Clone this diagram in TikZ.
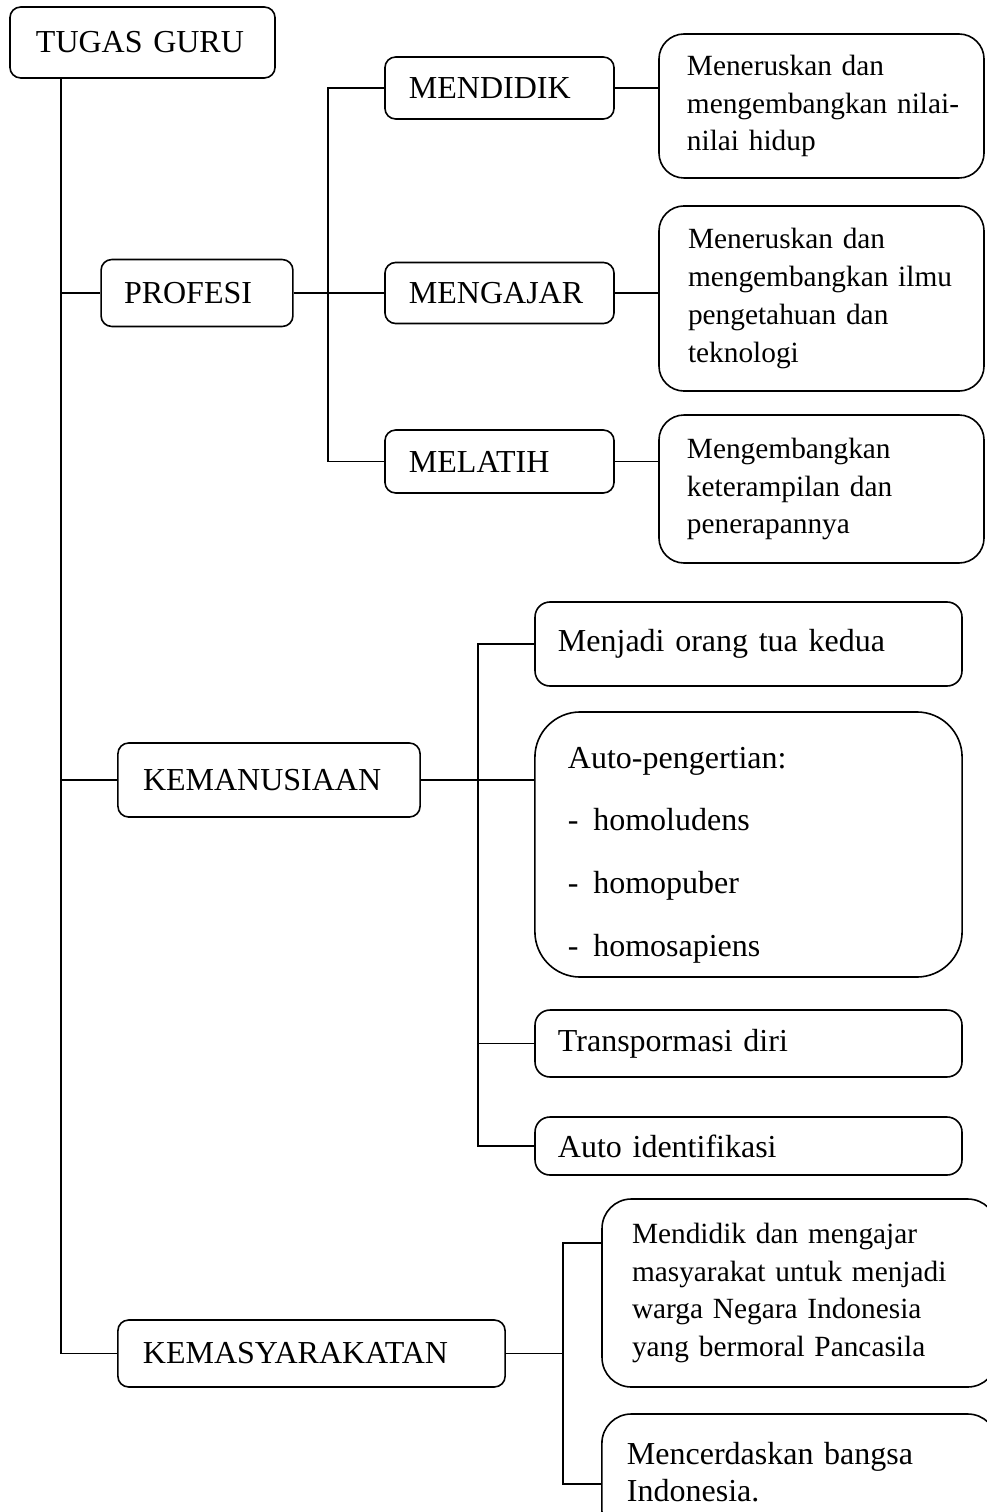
\documentclass[tikz,border=0pt]{standalone}
\usepackage{fontspec}
\setmainfont{Liberation Serif}
\usetikzlibrary{positioning}
\tikzset{
  every picture/.style = {
    line width = 0.6pt,
    x = 0.375pt,
    y = -0.375pt
  }
  ,
  tag/.style = {
    rectangle,
    draw,
    rounded corners = 4pt,
    font = \fontsize{12}{14}\selectfont,
    align = left,
    inner ysep = 0pt
  }
  , % one-line boxes on the right
  item/.style = {
    tag,
    rounded corners = 5.6pt
  }
  , % boxes with several lines
  note/.style = {
    rectangle,
    draw,
    rounded corners = 9.4pt,
    font = \fontsize{11}{14.2}\selectfont,
    align = left,
    inner ysep = 0pt
  }
}
\begin{document}
\begin{tikzpicture}
\useasboundingbox (0,0) rectangle (987,1512);
\clip (0,0) rectangle (987,1512);
% main branches
\node[tag, text width=79.9pt, inner xsep=9.75pt, minimum height=26.6pt] at (142.5,42.5) (tugas) {TUGAS GURU};
\node[tag, text width=54.75pt, inner xsep=8.6pt, minimum height=25.1pt] at (197,293) (profesi) {PROFESI};
\node[tag, text width=94.5pt, inner xsep=9.4pt, minimum height=27.75pt] at (269,780) (kemanusiaan) {KEMANUSIAAN};
\node[tag, text width=126.4pt, inner xsep=9.4pt, minimum height=25.1pt] at (311.5,1353.5) (kemasy) {KEMASYARAKATAN};
% profesi
\node[tag, text width=67.9pt, inner xsep=9pt, minimum height=23.25pt] at (499.5,88) (mendidik) {MENDIDIK};
\node[tag, text width=67.9pt, inner xsep=9pt, minimum height=22.9pt] at (499.5,293) (mengajar) {MENGAJAR};
\node[tag, text width=67.9pt, inner xsep=9pt, minimum height=23.6pt] at (499.5,461.5) (melatih) {MELATIH};
\node[note, text width=100.9pt, inner xsep=10.5pt, minimum height=54pt] at (821.5,106) (nilai) {Meneruskan dan\\\mbox{mengembangkan nilai-}\\nilai hidup};
\node[note, text width=100.1pt, inner xsep=10.9pt, minimum height=69.4pt] at (821.5,298.5) (ilmu) {Meneruskan dan\\\mbox{mengembangkan ilmu}\\pengetahuan dan\\teknologi};
\node[note, text width=100.9pt, inner xsep=10.5pt, minimum height=55.5pt] at (821.5,489) (latih) {Mengembangkan\\keterampilan dan\\penerapannya};
% kemanusiaan
\node[item, text width=142.9pt, inner xsep=8.6pt, minimum height=31.5pt] at (748.5,644) (menjadi) {Menjadi orang tua kedua};
\node[tag, rounded corners=17pt, font=\fontsize{12}{23.6}\selectfont, text width=135.4pt, inner xsep=12.4pt, minimum height=99.4pt] at (748.5,844.5) (autop) {\rule{0pt}{16pt}Auto-pengertian:\\-\hspace{5.5pt}homoludens\\-\hspace{5.5pt}homopuber\\-\hspace{5.5pt}homosapiens};
\node[item, text width=142.9pt, inner xsep=8.6pt, minimum height=25.1pt] at (748.5,1043.5) (transp) {Transpormasi diri};
\node[item, text width=142.9pt, inner xsep=8.6pt, minimum height=21.75pt] at (748.5,1146) (autoid) {Auto identifikasi};
% kemasyarakatan
\node[note, rounded corners=11pt, text width=125.6pt, inner xsep=11.25pt, minimum height=70.5pt] at (799.5,1293) (pancasila) {Mendidik dan mengajar\\\mbox{masyarakat untuk menjadi}\\warga Negara Indonesia\\yang bermoral Pancasila};
\node[note, rounded corners=11pt, font=\fontsize{12}{13.9}\selectfont, text width=129.4pt, inner xsep=9.4pt, minimum height=47.25pt] at (799.5,1477) (cerdas) {Mencerdaskan bangsa\\Indonesia.\rule[-4pt]{0pt}{0pt}};
% connectors
\coordinate (trunk) at (61,78);
\draw (trunk) |- (kemasy.west);
\draw (trunk |- profesi.west) -- (profesi.west);
\draw (trunk |- kemanusiaan.west) -- (kemanusiaan.west);
\coordinate (pbar) at (328,90);
\draw (mendidik.west) -| (pbar |- melatih.west) -- (melatih.west);
\draw (profesi.east) -- (mengajar.west);
\draw (mendidik.east) -- (mendidik.east -| nilai.west);
\draw (mengajar.east) -- (mengajar.east -| ilmu.west);
\draw (melatih.east) -- (melatih.east -| latih.west);
\coordinate (kbar) at (478,640);
\draw (menjadi.west) -| (kbar |- autoid.west) -- (autoid.west);
\draw (kemanusiaan.east) -- (kemanusiaan.east -| autop.west);
\draw (kbar |- transp.west) -- (transp.west);
\coordinate (mtop) at (563,1243);
\coordinate (mbot) at (563,1484);
\draw (mtop -| pancasila.west) -- (mtop) -- (mbot) -- (mbot -| cerdas.west);
\draw (kemasy.east) -- (kemasy.east -| mtop);
\end{tikzpicture}
\end{document}
